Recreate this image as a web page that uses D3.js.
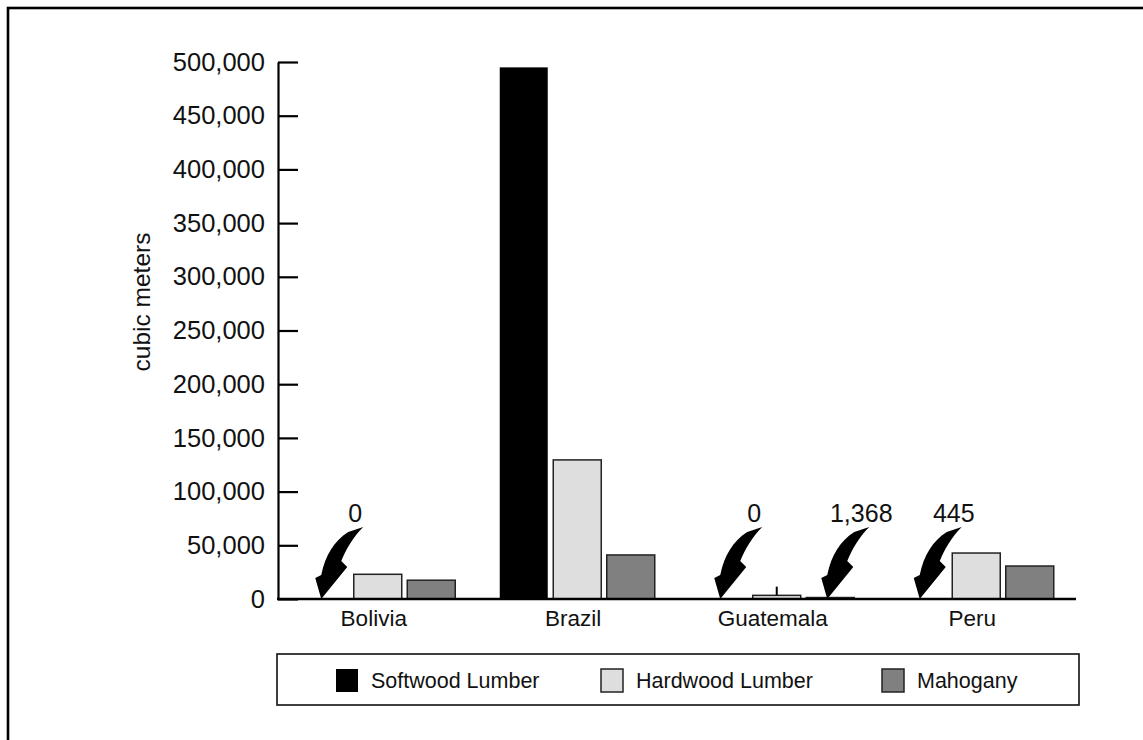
<!DOCTYPE html>
<html>
<head>
<meta charset="utf-8">
<script src="https://cdn.jsdelivr.net/npm/d3@7"></script>
<style>
  html, body { margin: 0; padding: 0; background: #fff; }
  svg { display: block; font-family: "Liberation Sans", Arial, Helvetica, sans-serif; }
</style>
</head>
<body>
<svg id="chart" width="1143" height="740"></svg>
<script>
// ---- data ----
const countries = ["Bolivia", "Brazil", "Guatemala", "Peru"];
const seriesNames = ["Softwood Lumber", "Hardwood Lumber", "Mahogany"];
const softwood = [0, 495000, 0, 445];
const hardwood = [23000, 129500, 3400, 42800];
const mahogany = [17500, 41000, 1368, 30700];
const hardwoodErrorHigh = [null, null, 11500, null];
const yTicks = [0, 50000, 100000, 150000, 200000, 250000, 300000, 350000, 400000, 450000, 500000];
// bars whose value is too small to see get an arrow with the value
const callouts = [
  { country: "Bolivia", series: "Softwood Lumber", value: 0 },
  { country: "Guatemala", series: "Softwood Lumber", value: 0 },
  { country: "Guatemala", series: "Mahogany", value: 1368 },
  { country: "Peru", series: "Softwood Lumber", value: 445 }
];

const seriesValues = [softwood, hardwood, mahogany];
const colors = { "Softwood Lumber": "#000000", "Hardwood Lumber": "#dedede", "Mahogany": "#808080" };
const strokes = { "Softwood Lumber": "#000000", "Hardwood Lumber": "#222", "Mahogany": "#222" };

const rows = countries.map((c, i) => ({
  country: c,
  values: seriesNames.map((s, j) => ({ series: s, value: seriesValues[j][i] }))
}));

const svg = d3.select("#chart");

// frame (right and bottom edges fall outside the picture)
svg.append("rect").attr("x", 8).attr("y", 8).attr("width", 1300).attr("height", 900)
  .attr("fill", "none").attr("stroke", "#000").attr("stroke-width", 2.6);

const x0 = d3.scaleBand().domain(countries).range([278, 1076]).paddingInner(0.223).paddingOuter(0.1115);
const x1 = d3.scaleBand().domain(seriesNames).range([0, x0.bandwidth()]).paddingInner(0.103).paddingOuter(0);
const y = d3.scaleLinear().domain([0, 500000]).range([599, 62]);

// bars
const g = svg.append("g");
const groups = g.selectAll("g.country").data(rows).join("g")
  .attr("class", "country")
  .attr("transform", d => `translate(${x0(d.country)},0)`);

groups.selectAll("rect").data(d => d.values.filter(v => v.value > 0)).join("rect")
  .attr("x", d => x1(d.series))
  .attr("y", d => y(d.value))
  .attr("width", x1.bandwidth())
  .attr("height", d => y(0) - y(d.value))
  .attr("fill", d => colors[d.series])
  .attr("stroke", d => strokes[d.series])
  .attr("stroke-width", d => d.series === "Softwood Lumber" ? 0 : 1.5);

// error line on Guatemala hardwood
countries.forEach((c, i) => {
  if (hardwoodErrorHigh[i] != null) {
    const cx = x0(c) + x1("Hardwood Lumber") + x1.bandwidth() / 2;
    svg.append("line").attr("x1", cx).attr("x2", cx)
      .attr("y1", y(hardwood[i])).attr("y2", y(hardwoodErrorHigh[i]))
      .attr("stroke", "#000").attr("stroke-width", 2);
  }
});

// y axis
const yAxis = d3.axisLeft(y).tickValues(yTicks).tickFormat(d3.format(","))
  .tickSizeInner(-20).tickSizeOuter(0).tickPadding(13);
const ya = svg.append("g").attr("transform", "translate(278,0)").call(yAxis);
ya.selectAll("path, line").attr("stroke", "#000").attr("stroke-width", 2.2);
ya.selectAll("text").attr("font-size", 25.5).attr("fill", "#111")
  .attr("font-family", "Liberation Sans, Arial, sans-serif");

// baseline
svg.append("line").attr("x1", 277).attr("x2", 1076).attr("y1", y(0)).attr("y2", y(0))
  .attr("stroke", "#000").attr("stroke-width", 2.4);

// x labels
svg.append("g").selectAll("text").data(countries).join("text")
  .attr("x", d => x0(d) + x0.bandwidth() / 2 - 4)
  .attr("y", 626)
  .attr("text-anchor", "middle")
  .attr("font-size", 22.5)
  .attr("fill", "#111")
  .text(d => d);

// y title
svg.append("text")
  .attr("transform", "translate(150,302) rotate(-90)")
  .attr("text-anchor", "middle")
  .attr("font-size", 24.5)
  .attr("fill", "#111")
  .text("cubic meters");

// callout arrows
const arrowPath = "M0,0 L-6,-21 L0,-24 C4,-44 13,-58 27,-67 L42,-72 C32,-62 25,-50 20,-38 L26,-32 Z";
const fmt = d3.format(",");
callouts.forEach(c => {
  const tipX = x0(c.country) + x1(c.series) + x1.bandwidth() / 2 - 3;
  const tipY = y(0);
  svg.append("path").attr("d", arrowPath)
    .attr("transform", `translate(${tipX},${tipY})`)
    .attr("fill", "#000");
  svg.append("text")
    .attr("x", tipX + 34).attr("y", 522)
    .attr("text-anchor", "middle")
    .attr("font-size", 25)
    .attr("fill", "#111")
    .text(fmt(c.value));
});

// legend
const lg = svg.append("g");
lg.append("rect").attr("x", 277).attr("y", 654).attr("width", 802).attr("height", 51)
  .attr("fill", "#fff").attr("stroke", "#111").attr("stroke-width", 1.6);
const legendX = [336, 601, 882];
seriesNames.forEach((s, i) => {
  lg.append("rect").attr("x", legendX[i]).attr("y", 669).attr("width", 22).attr("height", 23)
    .attr("fill", colors[s]).attr("stroke", s === "Softwood Lumber" ? "none" : "#222").attr("stroke-width", 1.5);
  lg.append("text").attr("x", legendX[i] + 35).attr("y", 688)
    .attr("font-size", 21.5).attr("fill", "#111").text(s);
});
</script>
</body>
</html>
